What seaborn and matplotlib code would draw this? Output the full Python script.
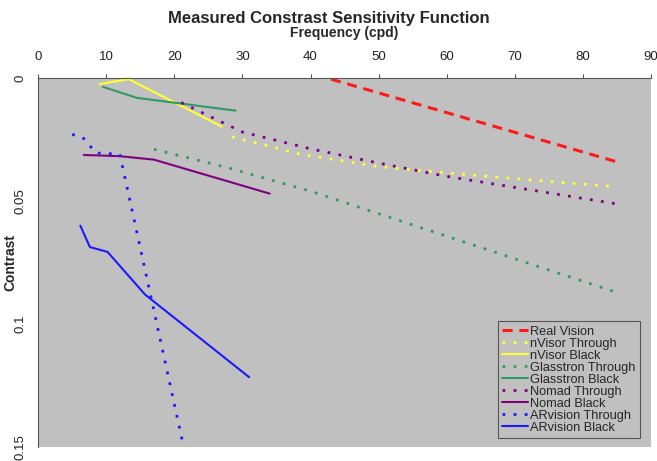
import pandas as pd
import matplotlib.pyplot as plt
import seaborn as sns

# Values (frequency in cpd, contrast)
real_x = [43, 85]
real_y = [0.0005, 0.0341]

nvisor_thr_x = [28.5, 38.5, 50, 60, 85]
nvisor_thr_y = [0.024, 0.031, 0.036, 0.0386, 0.0443]

nvisor_blk_x = [9, 13.3, 27]
nvisor_blk_y = [0.0025, 0.0005, 0.0198]

glass_thr_x = [17, 28, 40, 85]
glass_thr_y = [0.029, 0.0366, 0.046, 0.0872]

glass_blk_x = [9.5, 14.5, 29]
glass_blk_y = [0.0036, 0.0081, 0.0133]

nomad_thr_x = [21, 30, 40, 50, 60, 85]
nomad_thr_y = [0.010, 0.022, 0.0288, 0.0346, 0.040, 0.0512]

nomad_blk_x = [6.7, 12, 17, 34]
nomad_blk_y = [0.0313, 0.0318, 0.0332, 0.047]

arv_thr_x = [5, 6.5, 8.5, 12, 21.3]
arv_thr_y = [0.023, 0.024, 0.0305, 0.031, 0.149]

arv_blk_x = [6.2, 7.6, 10.2, 15.7, 31]
arv_blk_y = [0.060, 0.0687, 0.0707, 0.088, 0.1216]

dot = (0, (1, 3))
dash = (0, (3.3, 2.2))
series = [
    ("Real Vision", real_x, real_y, "#ff1a1a", dash, 2.2),
    ("nVisor Through", nvisor_thr_x, nvisor_thr_y, "#ffff33", dot, 2.0),
    ("nVisor Black", nvisor_blk_x, nvisor_blk_y, "#ffff33", "-", 1.5),
    ("Glasstron Through", glass_thr_x, glass_thr_y, "#339966", dot, 2.0),
    ("Glasstron Black", glass_blk_x, glass_blk_y, "#339966", "-", 1.5),
    ("Nomad Through", nomad_thr_x, nomad_thr_y, "#800080", dot, 2.0),
    ("Nomad Black", nomad_blk_x, nomad_blk_y, "#800080", "-", 1.5),
    ("ARvision Through", arv_thr_x, arv_thr_y, "#1a1aff", dot, 2.0),
    ("ARvision Black", arv_blk_x, arv_blk_y, "#1a1aff", "-", 1.5),
]

sns.set_style("white", {"axes.facecolor": "#c0c0c0"})
plt.rcParams["font.family"] = ["Liberation Sans", "DejaVu Sans"]

fig, ax = plt.subplots(figsize=(6.57, 4.61), dpi=100)
fig.subplots_adjust(left=0.058, right=0.991, top=0.831, bottom=0.030)

for name, xs, ys, color, ls, lw in series:
    df = pd.DataFrame({"Frequency": xs, "Contrast": ys})
    sns.lineplot(data=df, x="Frequency", y="Contrast", ax=ax, color=color,
                 linestyle=ls, linewidth=lw, label=name, sort=False)

ax.set_xlim(0, 90)
ax.set_ylim(0.15, 0)
ax.set_xticks(range(0, 91, 10))
ax.set_yticks([0, 0.05, 0.1, 0.15])
ax.set_yticklabels(["0", "0.05", "0.1", "0.15"], rotation=90, va="center")
ax.xaxis.tick_top()
ax.xaxis.set_label_position("top")
ax.tick_params(axis="x", direction="out", length=3, labelsize=9.5, pad=8, colors="#555555")
ax.tick_params(axis="y", direction="out", length=3, labelsize=9.5, pad=5, colors="#555555")
for lab in ax.get_xticklabels() + ax.get_yticklabels():
    lab.set_color("#222222")

for side in ["right", "bottom"]:
    ax.spines[side].set_visible(False)
for side in ["top", "left"]:
    ax.spines[side].set_color("#555555")
    ax.spines[side].set_linewidth(0.8)

ax.set_xlabel("Frequency (cpd)", fontsize=10, fontweight="bold", labelpad=10)
ax.set_ylabel("Contrast", fontsize=10, fontweight="bold")
ax.yaxis.set_label_coords(-0.034, 0.5)
fig.suptitle("Measured Constrast Sensitivity Function", fontsize=12,
             fontweight="bold", y=1 - 18 / 461, va="center")

leg = ax.legend(loc="lower right", bbox_to_anchor=(0.982, 0.024), fontsize=9.2,
                frameon=True, fancybox=False, framealpha=1, edgecolor="#555555",
                labelspacing=0.0, handlelength=2.0, handletextpad=0.2,
                borderpad=0.35, borderaxespad=0)
leg.get_frame().set_linewidth(0.8)

plt.savefig("out.png", dpi=100)
plt.close()
